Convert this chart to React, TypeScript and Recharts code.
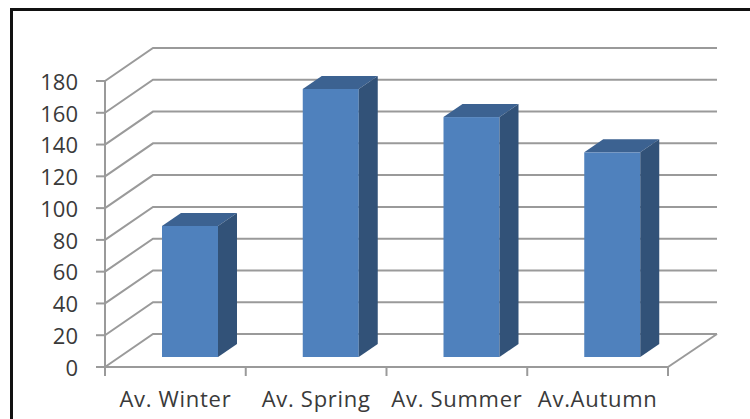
import { BarChart, Bar, XAxis, YAxis, CartesianGrid } from 'recharts';

const SEASONS = ['Av. Winter', 'Av. Spring', 'Av. Summer', 'Av.Autumn'];
const VALUES = [82.5, 168.7, 151, 128.8];
const Y_TICKS = [0, 20, 40, 60, 80, 100, 120, 140, 160, 180];

const data = SEASONS.map((name, i) => ({ name, value: VALUES[i] }));

const FONT = '"Open Sans", sans-serif';
const GRID = '#9a9a9a';
const TEXT = '#3a3a3a';

// wall offset of the fake 3D box, and how far bars sit in from the front edge
const WALL_DX = 48;
const WALL_DY = 33;
const BAR_DX = 15;
const BAR_DY = 10;
const DEPTH_DX = 19;
const DEPTH_DY = 13;
const BAND = 140.75;

function GridLine({ x1, y1, x2, index }: any) {
  const back = y1 - WALL_DY;
  return (
    <g key={index}>
      <path
        d={`M${x1},${y1} L${x1 + WALL_DX},${back} L${x2 + WALL_DX + 1},${back}`}
        fill="none"
        stroke={GRID}
        strokeWidth={2}
      />
      {y1 > 360 ? (
        <path d={`M${x2},${y1} L${x2 + WALL_DX + 1},${back}`} fill="none" stroke={GRID} strokeWidth={2} />
      ) : null}
    </g>
  );
}

function Bar3D({ x, y, width, height }: any) {
  const left = x + BAR_DX;
  const right = left + width;
  const top = y - BAR_DY;
  const bottom = top + height;
  return (
    <g>
      <rect x={left} y={top} width={width} height={height} fill="#4f81bd" />
      <polygon
        points={`${left},${top} ${left + DEPTH_DX},${top - DEPTH_DY} ${right + DEPTH_DX},${top - DEPTH_DY} ${right},${top}`}
        fill="#3c6291"
      />
      <polygon
        points={`${right},${top} ${right + DEPTH_DX},${top - DEPTH_DY} ${right + DEPTH_DX},${bottom - DEPTH_DY} ${right},${bottom}`}
        fill="#325278"
      />
    </g>
  );
}

function SeasonTick({ x, y, payload, index }: any) {
  const tickX = x - BAND / 2;
  const axisY = y - 8;
  return (
    <g>
      <line x1={tickX} y1={axisY} x2={tickX} y2={axisY + 9} stroke={GRID} strokeWidth={2} />
      {index === SEASONS.length - 1 ? (
        <line x1={tickX + BAND} y1={axisY} x2={tickX + BAND} y2={axisY + 9} stroke={GRID} strokeWidth={2} />
      ) : null}
      <text
        x={x}
        y={axisY + 40}
        textAnchor="middle"
        fontFamily={FONT}
        fontSize={22}
        letterSpacing={0.7}
        fill={TEXT}
      >
        {payload.value}
      </text>
    </g>
  );
}

export default function App() {
  return (
    <div style={{ position: 'absolute', left: 0, top: 0, width: 750, height: 419, overflow: 'hidden', background: '#fff' }}>
      <div
        style={{
          position: 'absolute',
          left: 10,
          top: 8,
          width: 760,
          height: 430,
          borderLeft: '3px solid #111',
          borderTop: '3px solid #111',
        }}
      />
      <BarChart
        width={750}
        height={419}
        data={data}
        margin={{ top: 81, right: 82, bottom: 0, left: 0 }}
        barSize={56}
        style={{ position: 'absolute', left: 0, top: 0 }}
      >
        <CartesianGrid vertical={false} horizontal={(props: any) => <GridLine {...props} />} />
        <XAxis
          dataKey="name"
          interval={0}
          height={52}
          axisLine={{ stroke: GRID, strokeWidth: 2 }}
          tickLine={false}
          tick={(props: any) => <SeasonTick {...props} />}
        />
        <YAxis
          width={105}
          domain={[0, 180]}
          ticks={Y_TICKS}
          interval={0}
          axisLine={{ stroke: GRID, strokeWidth: 2 }}
          tickLine={{ stroke: GRID, strokeWidth: 2 }}
          tickSize={9}
          tickMargin={18}
          tick={{ fontFamily: FONT, fontSize: 22, fill: TEXT, dy: 1 }}
        />
        <Bar dataKey="value" isAnimationActive={false} shape={(props: any) => <Bar3D {...props} />} />
      </BarChart>
    </div>
  );
}
